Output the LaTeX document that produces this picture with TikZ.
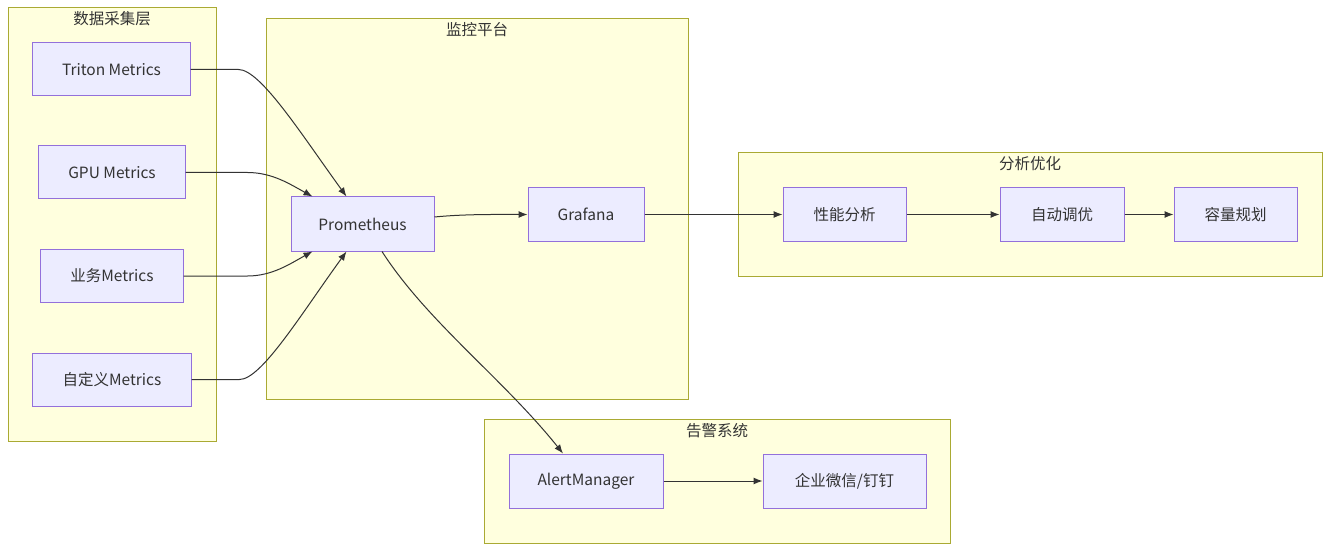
\documentclass[tikz,border=0pt]{standalone}
\usepackage{fontspec}
\setmainfont{Noto Sans CJK SC}
\usetikzlibrary{arrows.meta}
\definecolor{clusterfill}{HTML}{FFFFDE}
\definecolor{clusterline}{HTML}{AAAA33}
\definecolor{nodefill}{HTML}{ECECFF}
\definecolor{nodeline}{HTML}{9370DB}
\definecolor{textcol}{HTML}{333333}
\tikzset{
  box/.style={draw=nodeline, fill=nodefill, line width=1bp, minimum height=53bp,
    inner sep=0pt, text=textcol, font=\fontsize{15.5bp}{18bp}\selectfont},
  cluster/.style={draw=clusterline, fill=clusterfill, line width=1bp},
  clustertitle/.style={text=textcol, font=\fontsize{15.5bp}{18bp}\selectfont},
  edge/.style={->, draw=textcol, line width=1bp},
}
\begin{document}
\begin{tikzpicture}[>={Latex[length=9bp,width=7bp]}, x=1bp, y=-1bp]
  \useasboundingbox (0,0) rectangle (1338,554);
%%
  % Cluster: collect
  \draw [cluster] (8,8) rectangle (216,441);
  \node [clustertitle] (collecttitle) at (112,19) {数据采集层};
  % Cluster: monitor
  \draw [cluster] (266,19) rectangle (688,399);
  \node [clustertitle] (monitortitle) at (477,30) {监控平台};
  % Cluster: analysis
  \draw [cluster] (738,153) rectangle (1322,276);
  \node [clustertitle] (analysistitle) at (1030,164) {分析优化};
  % Cluster: alerting
  \draw [cluster] (484,419) rectangle (950,543);
  \node [clustertitle] (alertingtitle) at (717,431) {告警系统};
%%
  % Node: triton
  \node [box, minimum width=157bp] (triton) at (111.5,69.5) {Triton Metrics};
  % Node: gpu
  \node [box, minimum width=146bp] (gpu) at (112,172.5) {GPU Metrics};
  % Node: biz
  \node [box, minimum width=142bp] (biz) at (112,276) {业务Metrics};
  % Node: custom
  \node [box, minimum width=158bp] (custom) at (112,379.5) {自定义Metrics};
  % Node: prom
  \node [box, minimum width=143bp, minimum height=54bp] (prom) at (362.5,224) {Prometheus};
  % Node: grafana
  \node [box, minimum width=116bp] (grafana) at (586,214.5) {Grafana};
  % Node: perf
  \node [box, minimum width=123bp] (perf) at (844.5,214.5) {性能分析};
  % Node: tuning
  \node [box, minimum width=124bp] (tuning) at (1062,214.5) {自动调优};
  % Node: capacity
  \node [box, minimum width=123bp] (capacity) at (1235.5,214.5) {容量规划};
  % Node: alertmgr
  \node [box, minimum width=154bp, minimum height=54bp] (alertmgr) at (586,481) {AlertManager};
  % Node: notify
  \node [box, minimum width=163bp, minimum height=54bp] (notify) at (844.5,481) {企业微信/钉钉};
%%
  % Edge: triton -> prom
  \draw [edge] (triton.east) -- ++(48,0) .. controls +(22,0) and +(-45,-62) .. ([xshift=-16bp]prom.north);
  % Edge: gpu -> prom
  \draw [edge] (gpu.east) -- ++(62,0) .. controls +(25,0) and +(-22,-12) .. ([xshift=22bp]prom.north west);
  % Edge: biz -> prom
  \draw [edge] (biz.east) -- ++(64,0) .. controls +(25,0) and +(-22,12) .. ([xshift=22bp]prom.south west);
  % Edge: custom -> prom
  \draw [edge] (custom.east) -- ++(48,0) .. controls +(22,0) and +(-45,62) .. ([xshift=-16bp]prom.south);
  % Edge: prom -> grafana
  \draw [edge] ([yshift=7bp]prom.east) .. controls +(30,-3) and +(-30,0) .. (grafana.west);
  % Edge: grafana -> perf
  \draw [edge] (grafana) -- (perf);
  % Edge: perf -> tuning
  \draw [edge] (perf) -- (tuning);
  % Edge: tuning -> capacity
  \draw [edge] (tuning) -- (capacity);
  % Edge: prom -> alertmgr
  \draw [edge] ([xshift=19.5bp]prom.south) .. controls +(45,70) and +(-60,-75) .. ([xshift=-23bp]alertmgr.north);
  % Edge: alertmgr -> notify
  \draw [edge] (alertmgr) -- (notify);
%
\end{tikzpicture}
\end{document}
